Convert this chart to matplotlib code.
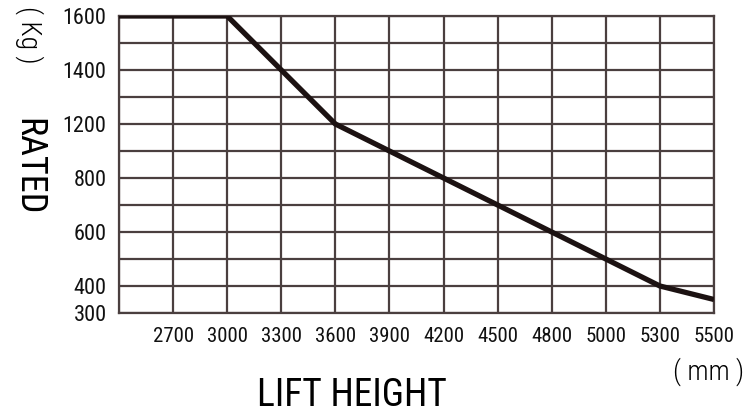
import matplotlib.pyplot as plt
import numpy as np

# lift height tick labels (first grid column has no label)
heights = ["", "2700", "3000", "3300", "3600", "3900", "4200",
           "4500", "4800", "5000", "5300", "5500"]
# rated load (kg) at each column
load = [1600, 1600, 1600, 1400, 1200, 1000, 800, 700, 600, 500, 400, 350]

# the y axis of the original is not linear: labelled values and their grid rows
ylabels = [300, 400, 600, 800, 1200, 1400, 1600]
yrows = [0, 1, 3, 5, 7, 9, 11]


def kg_to_row(v):
    return np.interp(v, ylabels, yrows)


def row_to_kg(r):
    return np.interp(r, yrows, ylabels)


plt.rcParams['font.family'] = ['Roboto Condensed', 'DejaVu Sans']

fig = plt.figure(figsize=(7.47, 4.18), dpi=100)
ax = fig.add_axes([119 / 747, 1 - 313 / 418, 595 / 747, 297 / 418])

ax.set_yscale('function', functions=(kg_to_row, row_to_kg))
x = np.arange(len(heights))
ax.plot(x, load, color='#1c1212', lw=3.8, solid_capstyle='butt', zorder=3)

ax.set_xlim(0, len(heights) - 1)
ax.set_ylim(300, 1600)

gc = '#4a3f3f'
for xi in x:
    ax.axvline(xi, color=gc, lw=1.6, zorder=1)
for r in range(12):
    ax.axhline(row_to_kg(r), color=gc, lw=1.6, zorder=1)

ax.set_xticks(x[1:])
ax.set_xticklabels(heights[1:], fontsize=15)
ax.set_yticks(ylabels)
ax.set_yticklabels([str(v) for v in ylabels], fontsize=16)
ax.yaxis.set_minor_locator(plt.NullLocator())
ax.tick_params(length=0, colors='#111111')
ax.tick_params(axis='x', pad=10)
ax.tick_params(axis='y', pad=9)
for s in ax.spines.values():
    s.set_color(gc)
    s.set_linewidth(1.6)

fig.text(29 / 747, 1 - 35 / 418, "( Kg )", rotation=-90, ha='center', va='center',
         fontsize=20, fontweight='light')
fig.text(28 / 747, 1 - 167 / 418, "RATED", rotation=-90, ha='center', va='center',
         fontsize=26)
fig.text(709 / 747, 1 - 372 / 418, "( mm )", ha='center', va='center',
         fontsize=20, fontweight='light')
fig.text(352 / 747, 1 - 396 / 418, "LIFT HEIGHT", ha='center', va='center',
         fontsize=27)

fig.savefig("out.png", dpi=100)
